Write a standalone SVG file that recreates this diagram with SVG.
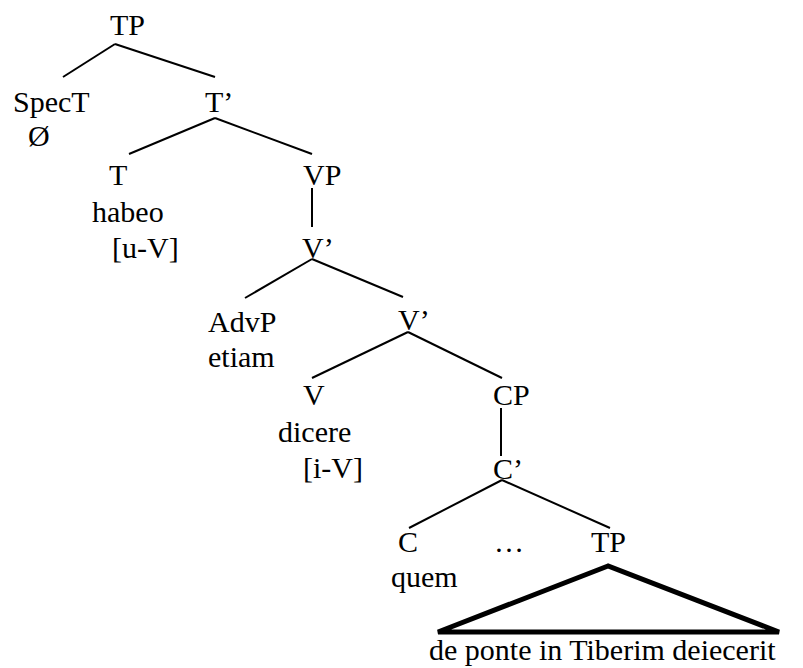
<svg xmlns="http://www.w3.org/2000/svg" width="803" height="668" viewBox="0 0 803 668">
  <style>
    text { font-family: 'Liberation Serif', 'Times New Roman', 'DejaVu Serif', serif; font-size: 30px; fill: #000; }
    .edge { stroke: #000; stroke-width: 2; fill: none; stroke-linecap: butt; }
    .tri { stroke: #000; stroke-width: 5; fill: none; stroke-linejoin: miter; }
  </style>
  <rect width="803" height="668" fill="#fff"/>

  <!-- tree branches -->
  <g id="connectors">
    <line class="edge" x1="115" y1="44" x2="63" y2="77"/>
    <line class="edge" x1="115" y1="44" x2="215" y2="77"/>
    <line class="edge" x1="215" y1="118" x2="129" y2="154"/>
    <line class="edge" x1="215" y1="118" x2="312" y2="154"/>
    <line class="edge" x1="312" y1="188" x2="312" y2="227"/>
    <line class="edge" x1="312" y1="259" x2="245" y2="298"/>
    <line class="edge" x1="312" y1="259" x2="403" y2="297"/>
    <line class="edge" x1="408" y1="332" x2="312" y2="378"/>
    <line class="edge" x1="408" y1="332" x2="502" y2="378"/>
    <line class="edge" x1="501" y1="408" x2="501" y2="456"/>
    <line class="edge" x1="502" y1="480" x2="409" y2="528"/>
    <line class="edge" x1="502" y1="480" x2="610" y2="528"/>
  </g>

  <g id="tp"><text x="110" y="35">TP</text></g>
  <g id="spect"><text x="13" y="112">SpecT</text><text x="28" y="146">Ø</text></g>
  <g id="tbar"><text x="205" y="112">T’</text></g>
  <g id="t"><text x="109" y="185">T</text><text x="92" y="222">habeo</text><text x="112" y="258">[u-V]</text></g>
  <g id="vp"><text x="303" y="185">VP</text></g>
  <g id="vbar1"><text x="302" y="258">V’</text></g>
  <g id="advp"><text x="208" y="332">AdvP</text><text x="208" y="367">etiam</text></g>
  <g id="vbar2"><text x="398" y="330">V’</text></g>
  <g id="v"><text x="303" y="405">V</text><text x="278" y="442">dicere</text><text x="303" y="478">[i-V]</text></g>
  <g id="cp"><text x="493" y="405">CP</text></g>
  <g id="cbar"><text x="493" y="479">C’</text></g>
  <g id="c"><text x="398" y="552">C</text><text x="391" y="587">quem</text></g>
  <g id="ellipsis"><text x="494" y="552">…</text></g>
  <g id="tp2">
    <text x="591" y="552">TP</text>
    <polygon class="tri" points="608,566 438,632 779,632"/>
    <text x="429" y="660">de ponte in Tiberim deiecerit</text>
  </g>
</svg>
